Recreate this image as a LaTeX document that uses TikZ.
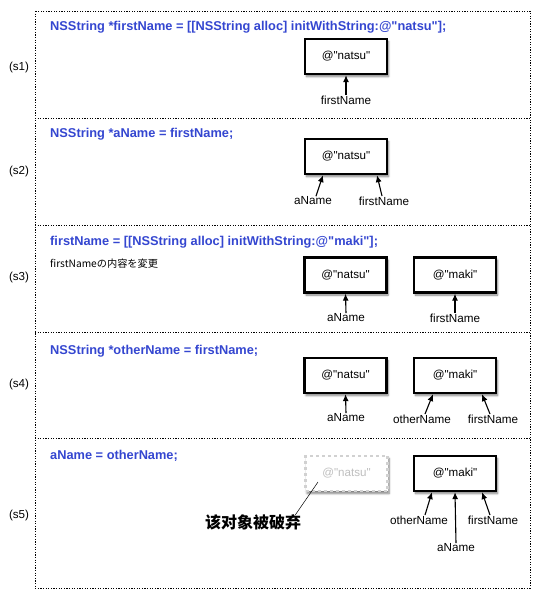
\documentclass[tikz,border=0pt]{standalone}
\usepackage{fontspec}
\setmainfont{Liberation Sans}[Ligatures=TeXOff]
\newfontfamily\jpfont{Noto Sans CJK JP}
\newfontfamily\scfont{Noto Sans CJK SC}
\usetikzlibrary{positioning, arrows.meta, shadows.blur}
\definecolor{codeblue}{RGB}{52,70,208}

\begin{document}
\begin{tikzpicture}[x=1pt, y=-1pt]
	\tikzset{
		frame/.style={line width=0.8pt, dash pattern=on 1.2pt off 1.4pt},
		code/.style={anchor=west, inner sep=0pt, text=codeblue, font=\fontsize{12.8}{14}\selectfont\bfseries},
		obj/.style={draw, line width=2.3pt, fill=white, minimum width=82pt, minimum height=35pt, inner sep=0pt,
			font=\fontsize{11.6}{13}\selectfont, blur shadow={shadow xshift=1.5pt, shadow yshift=-2.5pt, shadow blur steps=6, shadow opacity=50}},
		dead/.style={obj, draw=black!18, dashed, text=black!25},
		var/.style={inner sep=0.5pt, font=\fontsize{11.7}{13}\selectfont},
		ref/.style={-{Latex[length=7pt, width=6pt]}, line width=1.1pt},
		stage/.style={font=\fontsize{11.6}{13}\selectfont}
	}
	\useasboundingbox (0,0) rectangle (541,600);
	
	% 外框
	\draw[frame] (35,11) rectangle (530,588);
	\foreach \y in {118,225,332,438} {
		\draw[frame] (35,\y) -- (530,\y);
	}
	\foreach \n/\y in {1/67,2/171,3/277,4/384,5/515} {
		\node[stage] (s\n) at (19,\y) {(s\n)};
	}
	
	% (s1)
	\node[code] (c1) at (50,27) {NSString *firstName = [[NSString alloc] initWithString:@"natsu"];};
	\node[obj] (natsu1) at (346,56.5) {@"natsu"};
	\node[var] (first1) at (346,100) {firstName};
	\draw[ref] (first1.north) -- (natsu1.south);
	
	% (s2)
	\node[code] (c2) at (50,134) {NSString *aName = firstName;};
	\node[obj] (natsu2) at (346,156.5) {@"natsu"};
	\node[var] (a2) at (313,201) {aName};
	\node[var] (first2) at (384,201) {firstName};
	\draw[ref] ([xshift=3pt]a2.north) -- ([xshift=-23pt]natsu2.south);
	\draw[ref] ([xshift=-2pt]first2.north) -- ([xshift=31pt]natsu2.south);
	
	% (s3)
	\node[code] (c3) at (50,242) {firstName = [[NSString alloc] initWithString:@"maki"];};
	\node[anchor=west, inner sep=0pt, font=\jpfont\fontsize{10.2}{12}\selectfont] (memo3) at (50,264) {firstNameの内容を変更};
	\node[obj] (natsu3) at (345.5,275) {@"natsu"};
	\node[obj] (maki3) at (455,275) {@"maki"};
	\node[var] (a3) at (346,318) {aName};
	\node[var] (first3) at (455,318) {firstName};
	\draw[ref] (a3.north) -- (natsu3.south);
	\draw[ref] (first3.north) -- (maki3.south);
	
	% (s4)
	\node[code] (c4) at (50,351) {NSString *otherName = firstName;};
	\node[obj] (natsu4) at (345.5,375.5) {@"natsu"};
	\node[obj] (maki4) at (455,375.5) {@"maki"};
	\node[var] (a4) at (346,418) {aName};
	\node[var] (other4) at (422,419) {otherName};
	\node[var] (first4) at (493,419) {firstName};
	\draw[ref] (a4.north) -- (natsu4.south);
	\draw[ref] ([xshift=3pt]other4.north) -- ([xshift=-22pt]maki4.south);
	\draw[ref] ([xshift=-3pt]first4.north) -- ([xshift=27pt]maki4.south);
	
	% (s5)
	\node[code] (c5) at (50,456) {aName = otherName;};
	\node[dead] (natsu5) at (346.5,473.5) {@"natsu"};
	\node[obj] (maki5) at (455,473.5) {@"maki"};
	\node[var] (other5) at (419,520) {otherName};
	\node[var] (first5) at (493,520) {firstName};
	\node[var] (a5) at (456,548) {aName};
	\draw[ref] ([xshift=6pt]other5.north) -- ([xshift=-23pt]maki5.south);
	\draw[ref] (a5.north) -- (maki5.south);
	\draw[ref] ([xshift=-3pt]first5.north) -- ([xshift=27pt]maki5.south);
	
	% 被丢弃的对象
	\node[inner sep=0pt, font=\scfont\bfseries\fontsize{16}{18}\selectfont] (gone) at (253,522) {该对象被破弃};
	\coordinate (gonept) at (318,482);
	\draw[line width=0.5pt] ([xshift=-6pt, yshift=-1pt]gone.north east) -- (gonept);
\end{tikzpicture}
\end{document}
